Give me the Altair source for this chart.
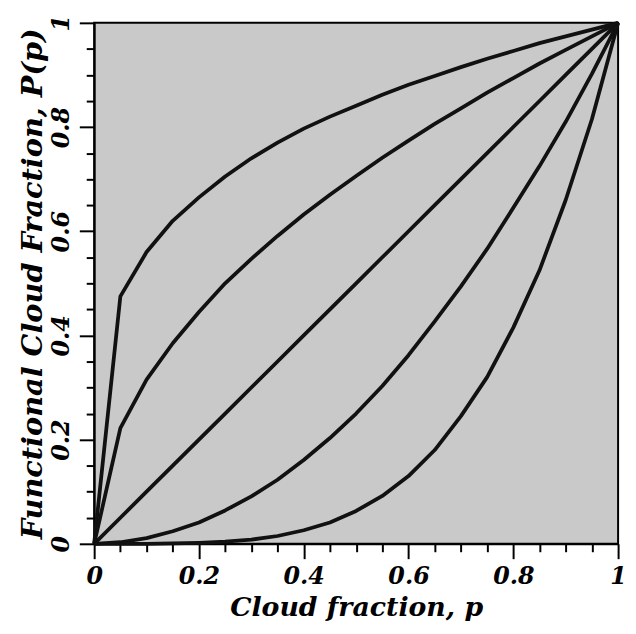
import altair as alt
import pandas as pd

# Cloud fraction sample points
p_values = [0.0, 0.05, 0.10, 0.15, 0.20, 0.25, 0.30, 0.35, 0.40, 0.45, 0.50,
            0.55, 0.60, 0.65, 0.70, 0.75, 0.80, 0.85, 0.90, 0.95, 1.0]

# Functional cloud fraction P(p) for the five curves
curve_a = [0.0, 0.475, 0.56, 0.62, 0.665, 0.705, 0.74, 0.77, 0.797, 0.82, 0.841,
           0.862, 0.881, 0.898, 0.915, 0.931, 0.946, 0.961, 0.974, 0.987, 1.0]
curve_b = [0.0, 0.222, 0.315, 0.385, 0.445, 0.50, 0.547, 0.591, 0.632, 0.67, 0.706,
           0.741, 0.774, 0.806, 0.836, 0.866, 0.894, 0.922, 0.948, 0.974, 1.0]
curve_c = [0.0, 0.05, 0.10, 0.15, 0.20, 0.25, 0.30, 0.35, 0.40, 0.45, 0.50,
           0.55, 0.60, 0.65, 0.70, 0.75, 0.80, 0.85, 0.90, 0.95, 1.0]
curve_d = [0.0, 0.003, 0.011, 0.024, 0.041, 0.064, 0.091, 0.123, 0.161, 0.203, 0.25,
           0.303, 0.362, 0.427, 0.494, 0.566, 0.645, 0.725, 0.81, 0.902, 1.0]
curve_e = [0.0, 0.0, 0.0, 0.001, 0.002, 0.004, 0.008, 0.015, 0.026, 0.041, 0.063,
           0.092, 0.13, 0.18, 0.245, 0.32, 0.415, 0.525, 0.66, 0.815, 1.0]

curve_names = ["a", "b", "c", "d", "e"]
curve_values = [curve_a, curve_b, curve_c, curve_d, curve_e]

major_ticks = [0, 0.2, 0.4, 0.6, 0.8, 1]
minor_ticks = [0.05, 0.1, 0.15, 0.25, 0.3, 0.35, 0.45, 0.5, 0.55,
               0.65, 0.7, 0.75, 0.85, 0.9, 0.95]

rows = []
for name, vals in zip(curve_names, curve_values):
    for pv, v in zip(p_values, vals):
        rows.append({"p": pv, "P": v, "curve": name})
df = pd.DataFrame(rows)

FONT = "DejaVu Serif"
scale = alt.Scale(domain=[0, 1], nice=False, zero=False)

x_main = alt.X(
    "p:Q", scale=scale,
    axis=alt.Axis(
        orient="bottom", values=major_ticks, format="~g", grid=False,
        tickSize=15, tickWidth=2, tickColor="black",
        domainWidth=2, domainColor="black",
        labelFont=FONT, labelFontSize=24, labelFontWeight="bold",
        labelFontStyle="italic", labelColor="black", labelPadding=6,
        labelFlush=False,
        title="Cloud fraction, p", titleFont=FONT, titleFontSize=27,
        titleFontWeight="bold", titleFontStyle="italic", titleColor="black",
        titlePadding=6,
    ),
)
y_main = alt.Y(
    "P:Q", scale=scale,
    axis=alt.Axis(
        orient="left", values=major_ticks, format="~g", grid=False,
        tickSize=15, tickWidth=2, tickColor="black",
        domainWidth=2, domainColor="black",
        labelFont=FONT, labelFontSize=24, labelFontWeight="bold",
        labelFontStyle="italic", labelColor="black", labelAngle=-90,
        labelAlign="center", labelBaseline="bottom", labelPadding=6,
        labelFlush=False,
        title="Functional Cloud Fraction, P(p)", titleFont=FONT,
        titleFontSize=29, titleFontWeight="bold", titleFontStyle="italic",
        titleColor="black", titlePadding=2,
    ),
)

lines = alt.Chart(df).mark_line(
    strokeWidth=3.8, color="#111111", strokeJoin="round"
).encode(x=x_main, y=y_main, detail="curve:N")

x_minor = alt.X(
    "p:Q", scale=scale,
    axis=alt.Axis(orient="bottom", values=minor_ticks, labels=False,
                  domain=False, grid=False, tickSize=8, tickWidth=2,
                  tickColor="black", title=None),
)
y_minor = alt.Y(
    "P:Q", scale=scale,
    axis=alt.Axis(orient="left", values=minor_ticks, labels=False,
                  domain=False, grid=False, tickSize=8, tickWidth=2,
                  tickColor="black", title=None),
)
minor = alt.Chart(df).mark_point(opacity=0).encode(x=x_minor, y=y_minor)

chart = (
    alt.layer(lines, minor)
    .resolve_axis(x="independent", y="independent")
    .properties(width=529, height=526, background="white",
                autosize=alt.AutoSizeParams(type="none"),
                padding={"left": 87, "top": 12, "right": 10, "bottom": 80})
    .configure_view(fill="#c9c9c9", stroke="black", strokeWidth=2)
)

chart.save("out.html", embed_options={"renderer": "svg", "actions": False})
